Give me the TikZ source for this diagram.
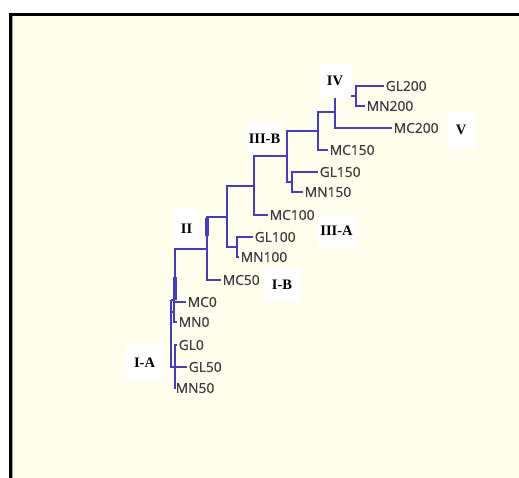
\documentclass[tikz,border=0pt]{standalone}
\usepackage{fontspec}
\setmainfont{Liberation Serif}
\newfontfamily\leaffont[FakeBold=0.4]{Open Sans}
\definecolor{paper}{RGB}{255,253,235}
\definecolor{branch}{RGB}{70,58,200}
\definecolor{leafink}{RGB}{60,60,64}
\tikzset{
  branchline/.style={draw=branch, line width=1.7pt},
  heavyline/.style={draw=branch, line width=3.4pt},
  leaf/.style={anchor=west, inner xsep=1.5pt, inner ysep=0pt, text=leafink,
               font=\leaffont\fontsize{13.8}{13.8}\selectfont},
  tag/.style={fill=white, inner sep=0pt, text=black,
              font=\bfseries\fontsize{14.5}{14.5}\selectfont}
}
\begin{document}
\begin{tikzpicture}[x=1pt,y=-1pt]
\useasboundingbox (0,0) rectangle (519,478);
% panel
\fill[white] (0,0) rectangle (519,478);
\fill[paper] (11,14) rectangle (519,478);
\draw[black, line width=2.6pt] (10.6,478) -- (10.6,14.4) -- (519,14.4);
\draw[gray!70, line width=0.7pt] (12.6,478) -- (12.6,16);

% leaves
\node[leaf] (GL200) at (384,86)  {GL200};
\node[leaf] (MN200) at (365,106) {MN200};
\node[leaf] (MC200) at (392,128) {MC200};
\node[leaf] (MC150) at (328,150) {MC150};
\node[leaf] (GL150) at (318,172) {GL150};
\node[leaf] (MN150) at (303,192) {MN150};
\node[leaf] (MC100) at (268,215) {MC100};
\node[leaf] (GL100) at (253,237) {GL100};
\node[leaf] (MN100) at (239,257) {MN100};
\node[leaf] (MC50)  at (221,280) {MC50};
\node[leaf] (MC0)   at (186,302) {MC0};
\node[leaf] (MN0)   at (177,322) {MN0};
\node[leaf] (GL0)   at (177,345) {GL0};
\node[leaf] (GL50)  at (187,367) {GL50};
\node[leaf] (MN50)  at (174,388) {MN50};

% internal nodes of the dendrogram
\coordinate (a) at (356,96);
\coordinate (b) at (335,112);
\coordinate (c) at (318,131);
\coordinate (e) at (292,182);
\coordinate (d) at (287,156);
\coordinate (f) at (254,186);
\coordinate (h) at (237,247);
\coordinate (g) at (227,217);
\coordinate (i) at (207,249);
\coordinate (k) at (174,312);
\coordinate (m) at (175,367);
\coordinate (l) at (171,300);
\coordinate (root) at (175,300);
\coordinate (rootup) at (175,277);
\coordinate (itop) at (207,218);
\coordinate (imid) at (207,236);

% branches
\draw[branchline] (a) |- (GL200.west) (a) |- (MN200.west);
\draw[branchline] (b) |- (a) (b) |- (MC200.west);
\draw[branchline] (c) |- (b) (c) |- (MC150.west);
\draw[branchline] (e) |- (GL150.west) (e) |- (MN150.west);
\draw[branchline] (d) |- (c) (d) |- (e);
\draw[branchline] (f) |- (d) (f) |- (MC100.west);
\draw[branchline] (h) |- (GL100.west) (h) |- (MN100.west);
\draw[branchline] (g) |- (f) (g) |- (h);
\draw[branchline] (i) |- (g) (i) |- (MC50.west);
\draw[branchline] (k) |- (MC0.west) (k) |- (MN0.west);
\draw[branchline] (m) |- (GL0.west) (m) |- (GL50.west) (m) |- (MN50.west);
\draw[branchline] (l) |- (k) (l) |- (m);
\draw[branchline] (root) |- (i) (root) -- (l);
\draw[heavyline] (rootup) -- (root);
\draw[heavyline] (itop) -- (imid);

% cluster tags
\node[tag, minimum width=32pt, minimum height=34pt] (tIV)   at (335,81)  {IV};
\node[tag, minimum width=27pt, minimum height=36pt] (tV)    at (461,130) {V};
\node[tag, minimum width=36pt, minimum height=32pt] (tIIIB) at (264.5,139) {III-B};
\node[tag, minimum width=27pt, minimum height=39pt] (tII)   at (186.5,228.5) {II};
\node[tag, minimum width=38pt, minimum height=32pt] (tIIIA) at (336.5,231) {III-A};
\node[tag, minimum width=37pt, minimum height=34pt] (tIB)   at (282,285) {I-B};
\node[tag, minimum width=37pt, minimum height=35pt] (tIA)   at (144.5,362.5) {I-A};
\end{tikzpicture}
\end{document}
